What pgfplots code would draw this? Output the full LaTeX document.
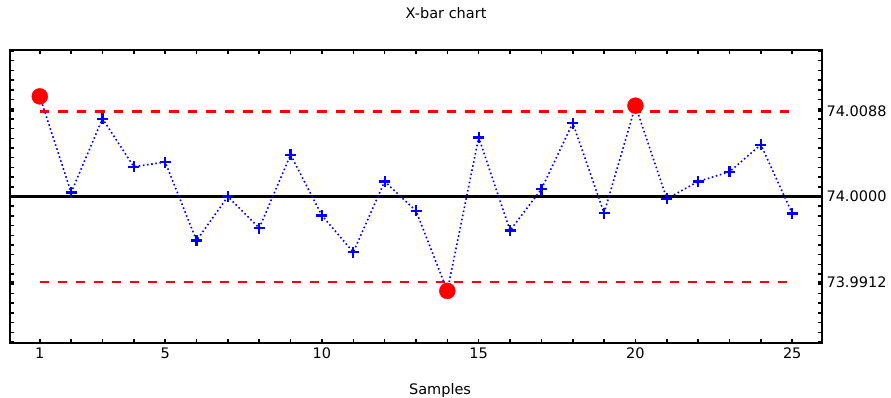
\documentclass[border=0pt]{standalone}
\usepackage{pgfplots}
\pgfplotsset{compat=1.18}
\usepackage{fontspec}
\setmainfont{DejaVu Sans}
\begin{document}
\begin{tikzpicture}
\begin{axis}[name=ax, at={(0pt,0pt)}, anchor=south west,
  scale only axis, width=812pt, height=293pt,
  xmin=0.05, xmax=25.95, ymin=73.9849, ymax=74.0151,
  xtick={1,5,10,15,20,25}, xticklabels={1,5,10,15,20,25},
  minor xtick={1,2,3,4,5,6,7,8,9,10,11,12,13,14,15,16,17,18,19,20,21,22,23,24,25},
  ytick={73.9912,74.0000,74.0088}, yticklabels={73.9912,74.0000,74.0088},
  minor ytick={73.985,73.986,73.987,73.988,73.989,73.990,73.991,73.992,73.993,73.994,73.995,73.996,73.997,73.998,73.999,74.000,74.001,74.002,74.003,74.004,74.005,74.006,74.007,74.008,74.009,74.010,74.011,74.012,74.013,74.014,74.015},
  xticklabel pos=lower, yticklabel pos=right,
  xtick pos=both, ytick pos=both,
  tick align=inside,
  major tick length=4pt, minor tick length=4pt,
  every tick/.style={black, line width=1.5pt},
  axis line style={line width=2.5pt},
  tick label style={font=\fontsize{14.5}{16}\selectfont},
  yticklabel style={anchor=west, xshift=1pt},
  xticklabel style={yshift=-1pt},
  title={X-bar chart},
  title style={at={(0.537,1)}, anchor=center, yshift=31pt, font=\fontsize{14.5}{16}\selectfont},
  xlabel={Samples},
  xlabel style={at={(0.5296,0)}, anchor=center, yshift=-47pt, font=\fontsize{14.5}{16}\selectfont},
  clip=false,
]
\addplot[black, line width=2.5pt] coordinates {(0.05,74.0000) (25.95,74.0000)};
\addplot[red, line width=3pt, dash pattern=on 9.5pt off 9pt] coordinates {(1,74.0088) (25,74.0088)};
\addplot[red, line width=2.2pt, dash pattern=on 9pt off 9pt] coordinates {(1,73.9912) (25,73.9912)};
\addplot[blue, line width=1.6pt, dash pattern=on 1.6pt off 2.6pt, mark=+, mark size=5.5pt,
  mark options={solid, line width=2.2pt}] table {
1 74.01032
2 74.00041
3 74.00802
4 74.00307
5 74.00355
6 73.99546
7 74.00000
8 73.99674
9 74.00430
10 73.99804
11 73.99426
12 74.00155
13 73.99852
14 73.99027
15 74.00609
16 73.99649
17 74.00076
18 74.00757
19 73.99829
20 74.00936
21 73.99976
22 74.00155
23 74.00255
24 74.00534
25 73.99825
};
\addplot[only marks, mark=*, red, mark size=8pt] table {
1 74.01032
14 73.99027
20 74.00936
};
\end{axis}
\pgfresetboundingbox
\path[use as bounding box] (-10pt,-54pt) rectangle (881pt,343pt);
\end{tikzpicture}
\end{document}
